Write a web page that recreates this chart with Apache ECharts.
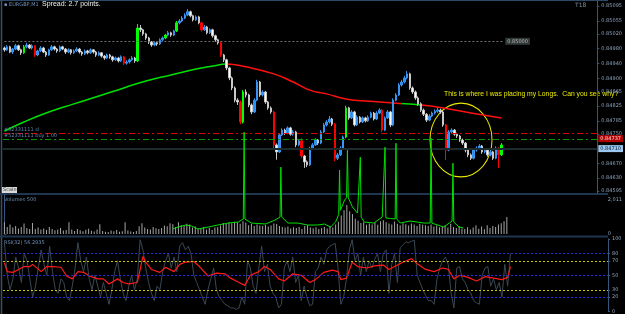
<!DOCTYPE html>
<html>
<head>
<meta charset="utf-8">
<script src="https://cdn.jsdelivr.net/npm/echarts@6/dist/echarts.min.js"></script>
<style>
  html, body { margin: 0; padding: 0; background: #000; }
  #chart { width: 625px; height: 314px; }
</style>
</head>
<body>
<div id="chart"></div>
<script>
// EURGBP M1, prices in points above 0.84000 -> [open, close, low, high]
const candles = [
  [982,977,972,986],[977,985,974,990],[985,971,968,988],[971,979,966,982],[979,988,976,993],
  [988,977,974,991],[977,969,963,980],[969,985,966,990],[985,990,981,996],[990,982,979,993],
  [982,988,978,992],[988,963,958,990],[963,974,960,977],[974,982,971,987],[982,971,968,985],
  [971,963,958,974],[963,977,961,980],[977,985,974,990],[985,979,975,988],[979,974,969,982],
  [974,985,971,989],[985,979,976,988],[979,971,966,982],[971,977,968,981],[977,969,964,979],
  [969,974,966,978],[974,979,971,984],[979,971,967,982],[971,966,961,974],[966,974,963,978],
  [974,969,965,977],[969,977,966,981],[977,971,967,979],[971,963,958,974],[963,969,960,973],
  [969,960,956,971],[960,955,950,963],[955,963,952,967],[963,958,953,966],[958,950,945,961],
  [950,955,947,959],[955,947,943,958],[947,958,944,962],[958,941,936,960],[941,944,937,949],
  [944,950,940,954],[950,955,947,960],[955,947,942,958],[947,1036,944,1047],[1036,1031,1025,1044],
  [1031,1020,1015,1034],[1020,1009,1004,1023],[1009,998,993,1012],[998,990,985,1001],[990,996,987,1000],
  [996,993,988,999],[993,1004,990,1008],[1004,1009,1000,1013],[1009,1017,1006,1020],[1017,1023,1014,1028],
  [1023,1017,1012,1026],[1017,1028,1014,1031],[1028,1050,1025,1055],[1050,1055,1046,1060],[1055,1063,1052,1068],
  [1063,1071,1060,1076],[1071,1080,1068,1087],[1080,1069,1065,1083],[1069,1058,1054,1072],[1058,1066,1055,1070],
  [1066,1050,1046,1069],[1050,1031,1026,1053],[1031,1039,1028,1044],[1039,1023,1019,1042],[1023,1031,1020,1035],
  [1031,1015,1010,1034],[1015,1004,999,1018],[1004,996,991,1007],[996,963,958,999],[963,950,944,966],
  [950,928,922,953],[928,901,895,931],[901,874,868,905],[874,841,835,878],[841,836,828,846],
  [836,782,776,840],[782,863,778,868],[863,855,848,870],[855,828,822,858],[828,809,803,832],
  [809,841,806,846],[841,890,838,896],[890,855,850,893],[855,863,851,868],[863,836,831,866],
  [836,820,815,839],[820,809,804,824],[809,720,710,812],[720,701,680,724],[701,747,698,752],
  [747,760,744,765],[760,752,747,764],[752,766,749,770],[766,749,745,769],[749,755,745,760],
  [755,720,714,758],[720,731,716,736],[731,690,684,738],[690,674,658,693],[674,666,660,678],
  [666,711,663,715],[711,720,707,725],[720,733,717,738],[733,725,720,736],[725,755,722,760],
  [755,774,752,779],[774,782,770,787],[782,790,778,798],[790,776,771,793],[776,684,676,779],
  [684,693,679,698],[693,711,690,716],[711,741,708,745],[741,820,738,826],[820,793,788,823],
  [793,809,790,814],[809,774,770,812],[774,795,771,800],[795,782,778,798],[782,793,779,797],
  [793,785,781,796],[785,795,782,800],[795,806,792,810],[806,790,786,809],[790,806,787,811],
  [806,814,803,819],[814,760,755,817],[760,793,757,797],[793,809,790,814],[809,774,768,812],
  [774,841,771,846],[841,855,838,860],[855,882,852,887],[882,890,878,896],[890,901,886,907],
  [901,912,897,920],[912,874,869,915],[874,863,858,878],[863,847,842,867],[847,831,826,851],
  [831,814,809,835],[814,803,798,818],[803,787,782,806],[787,798,784,803],[798,806,795,810],
  [806,811,802,816],[811,814,807,820],[814,809,804,818],[809,774,769,812],[774,706,679,777],
  [706,755,703,760],[755,760,751,765],[760,749,745,763],[749,744,739,753],[744,733,728,747],
  [733,725,720,737],[725,706,700,728],[706,693,687,710],[693,684,679,697],[684,706,681,711],
  [706,711,702,716],[711,717,707,722],[717,701,696,720],[701,706,697,711],[706,693,688,709],
  [693,701,689,706],[701,684,679,704],[684,711,681,716],[711,693,658,714],[693,720,690,725]
];
const bigDown = [11, 43, 71, 78, 85, 97, 107, 119, 136, 159, 178];
const bigUp = [7, 48, 58, 62, 86, 123, 179];

const volumes = [
  700,420,560,380,470,330,410,620,350,290, 650,300,380,260,320,240,410,300,220,270,
  350,200,240,690,260,180,300,220,170,250, 310,190,150,260,570,180,140,120,200,160,
  240,130,170,690,210,150,120,180,460,640, 380,300,260,420,340,290,360,500,460,640,
  580,420,700,520,480,600,560,390,450,330, 300,410,270,350,240,380,420,510,650,590,
  700,640,720,690,610,760,680,520,600,480, 560,500,470,530,450,500,620,590,480,410,
  380,450,330,400,350,420,300,470,520,390, 340,400,290,360,420,330,470,380,560,720,
  1100,1400,1720,1350,1180,900,780,650,700,540, 620,560,680,540,760,820,700,620,560,740,
  600,520,640,580,500,620,560,480,600,540, 520,470,560,440,500,400,450,520,380,600,
  420,350,470,330,300,400,260,380,520,310, 440,280,520,350,480,420,560,640,760,1000
];
// volume average line [bar position, volume]; tall spikes run up into the price panel
const volumeAvg = [
  [60,295],[62,420],[64.6,531],[66.7,472],[69,295],[72.7,413],[76,531],[79.8,649],[83.3,708],
  [85.1,885],[85.4,6018],[85.7,885],[88,649],[93,590],[96.4,826],[98.2,1003],[98.5,3953],[98.8,1003],
  [101,649],[104.5,649],[108,531],[111.6,531],[114,590],[116.2,413],[118,708],[119.1,1150],[119.4,3776],
  [119.7,1400],[121.2,2006],[121.9,2150],[122.2,4956],[122.5,2150],[124,1593],[125.8,1239],[126.5,1121],
  [126.8,4543],[127.1,1000],[128.2,708],[131.6,649],[134.6,1003],[135.3,1003],[135.6,5133],[135.9,944],
  [137.5,920],[139.2,885],[139.5,5369],[139.8,885],[141,649],[144.5,767],[149.5,649],[151.7,649],
  [152,5664],[152.3,640],[156.5,413],[158.5,649],[159.5,767],[159.8,4189],[160.1,700],[162,413],[163.5,354]
];
// moving average on price [bar, points]
const priceMA = [
  [0,757],[7,782],[16,809],[25,831],[34,852],[43,874],[51,893],[60,909],[69,925],[75,933],[80,939],
  [87,931],[97,912],[104,890],[110,868],[116,858],[123,844],[130,839],[140,833],[150,828],[158,820],
  [168,806],[179,793]
];
const rsiSlow = [
  [0,67],[1,55],[3,54],[5,58],[7,62],[9,62],[10,65],[13,55],[15,62],[17,62],[20,61],[22,49],[24,45],
  [26,55],[28,54],[30,49],[33,45],[35,45],[37,38],[40,45],[42,40],[44,38],[47,40],[48,58],[49,76],
  [50,68],[52,58],[55,54],[57,61],[60,55],[62,65],[64,68],[67,69],[69,62],[72,49],[75,53],[78,52],
  [80,46],[83,40],[85,36],[87,50],[90,55],[92,62],[94,58],[97,45],[99,42],[102,52],[105,50],[108,40],
  [110,44],[113,54],[116,57],[118,55],[119,44],[121,46],[123,68],[125,62],[128,60],[131,63],[134,64],
  [136,58],[138,62],[141,68],[144,73],[146,66],[149,58],[152,55],[155,60],[157,58],[159,45],[161,50],
  [164,47],[167,42],[170,48],[173,46],[176,44],[178,47],[179,62]
];
const rsiFast = [
  95,50,30,45,75,60,40,80,70,45, 20,35,60,85,65,50,90,55,30,25, 45,40,20,15,35,60,95,70,55,75,
  45,30,50,35,20,40,25,10,30,55, 70,45,25,15,35,50,30,45,99,85, 60,40,25,15,35,30,55,70,80,60,
  75,55,90,95,85,90,80,50,40,30, 20,10,30,45,60,30,20,15,10,8, 5,5,3,5,20,10,70,60,35,25,
  60,90,55,65,35,25,20,5,10,60, 70,55,75,40,50,15,35,20,8,10, 55,60,75,65,85,90,92,94,60,10,
  20,45,85,99,70,80,50,75,55,70, 60,72,80,55,80,85,25,65,80,40, 88,92,96,95,97,98,50,40,30,22,
  15,15,10,45,60,70,75,65,25,5, 60,62,45,40,30,25,15,12,10,50, 60,62,35,45,30,40,20,65,35,80
];
const priceTicks = ['0.84595','0.84630','0.84670','0.84750','0.84785','0.84825','0.84865',
  '0.84900','0.84940','0.84980','0.85020','0.85055','0.85095'];
const rsiLevels = [0, 20, 30, 50, 70, 80, 100];
const rsiBlue = [80, 50, 20];
const rsiYellow = [70, 30];
const volumeTicks = [0, 2011];
const bidPrice = 0.84710, askPrice = 0.84737, stopPrice = 0.84751, orderPrice = 0.84736, hLine = 0.85000;

const nCats = 214;
const cats = Array.from({ length: nCats }, (_, i) => i);
const px = p => +(0.84 + p / 1e5).toFixed(5);

const candleData = candles.map((d, i) => {
  const item = { value: d.map(px) };
  if (bigDown.includes(i)) item.itemStyle = { color: '#ff0000', color0: '#ff0000', borderColor: '#ff0000', borderColor0: '#ff0000' };
  if (bigUp.includes(i)) item.itemStyle = { color: '#00ff00', color0: '#00ff00', borderColor: '#00ff00', borderColor0: '#00ff00' };
  return item;
});
const maData = priceMA.map(d => [d[0], px(d[1])]);

const axisText = { color: '#8fa6bd', fontSize: 5, fontFamily: 'DejaVu Sans', margin: 4 };
const axisLn = { show: true, lineStyle: { color: '#35587c', width: 1 } };
const tick = { show: true, length: 2, lineStyle: { color: '#35587c' } };
const boxLabel = (text, color, bg) => ({ show: true, position: 'end', formatter: text, color: color, backgroundColor: bg,
  fontSize: 5, fontFamily: 'DejaVu Sans', padding: [1, 2], distance: 1 });
const leftLabel = text => ({ show: true, position: 'insideStartTop', formatter: text, color: '#5d86b0',
  fontSize: 5, fontFamily: 'DejaVu Sans', distance: 1 });

// one hidden carrier series per horizontal level, so each markLine keeps its own colour
function levelSeries(gridAxis, carrier, lines, style, label) {
  return {
    type: 'line', xAxisIndex: gridAxis, yAxisIndex: gridAxis, data: carrier, symbol: 'none', silent: true,
    lineStyle: { width: 0, color: style.color }, itemStyle: { color: style.color }, z: 1,
    markLine: {
      silent: true, symbol: ['none', 'none'], precision: 5, animation: false,
      lineStyle: style, label: label || { show: false },
      data: lines
    }
  };
}

let chart = echarts.init(document.getElementById('chart'));
let options = {
  backgroundColor: '#000',
  animation: false,
  grid: [
    { left: 3, right: 17, top: 1, height: 192 },
    { left: 3, right: 17, top: 195, height: 39 },
    { left: 3, right: 17, top: 239, height: 74 }
  ],
  xAxis: [
    { type: 'category', data: cats, gridIndex: 0, show: false },
    { type: 'category', data: cats, gridIndex: 1, show: false },
    { type: 'category', data: cats, gridIndex: 2, show: false },
    { type: 'value', gridIndex: 1, min: -0.5, max: nCats - 0.5, show: false }
  ],
  yAxis: [
    { type: 'value', gridIndex: 0, position: 'right', min: 0.8459, max: 0.85109,
      axisLine: axisLn, axisTick: Object.assign({ customValues: priceTicks.map(Number) }, tick),
      splitLine: { show: false },
      axisLabel: Object.assign({ customValues: priceTicks.map(Number), formatter: v => v.toFixed(5) }, axisText) },
    { type: 'value', gridIndex: 1, position: 'right', min: 0, max: 2307,
      axisLine: axisLn, axisTick: Object.assign({ customValues: volumeTicks }, tick), splitLine: { show: false },
      axisLabel: Object.assign({ customValues: volumeTicks }, axisText) },
    { type: 'value', gridIndex: 2, position: 'right', min: 0, max: 100,
      axisLine: axisLn, axisTick: Object.assign({ customValues: rsiLevels }, tick), splitLine: { show: false },
      axisLabel: Object.assign({ customValues: rsiLevels }, axisText) }
  ],
  visualMap: {
    type: 'piecewise', show: false, seriesIndex: 1, dimension: 0,
    pieces: [
      { lt: 80, color: '#00e000' },
      { gte: 80, lt: 143, color: '#ff1010' },
      { gte: 143, lt: 150, color: '#00e000' },
      { gte: 150, color: '#ff1010' }
    ]
  },
  series: [
    {
      type: 'candlestick', xAxisIndex: 0, yAxisIndex: 0, data: candleData, barWidth: 2, z: 3,
      itemStyle: { color: '#1e8fff', color0: '#ffffff', borderColor: '#3a95f0', borderColor0: '#c8c8c8', borderWidth: 1 }
    },
    {
      type: 'line', xAxisIndex: 0, yAxisIndex: 0, smooth: true, symbol: 'none', z: 3,
      data: maData, lineStyle: { width: 1.5 }
    },
    levelSeries(0, maData, [{ yAxis: stopPrice }], { color: '#e00000', type: [6, 3, 2, 3], width: 1 }, leftLabel('#52331111 sl')),
    levelSeries(0, maData, [{ yAxis: orderPrice }], { color: '#00a000', type: [6, 3, 2, 3], width: 1 }, leftLabel('#52331111 buy 1.00')),
    levelSeries(0, maData, [{ yAxis: bidPrice }], { color: '#1c2b2b', type: 'solid', width: 2 }, boxLabel(bidPrice.toFixed(5), '#0a1a30', '#9cc8f0')),
    levelSeries(0, maData, [{ yAxis: askPrice }], { color: 'rgba(0,0,0,0)', width: 1 }, boxLabel(askPrice.toFixed(5), '#ffd8d8', '#b00000')),
    levelSeries(0, maData, [[{ coord: [0, hLine] }, { coord: [180, hLine] }]], { color: '#707070', type: [2, 2], width: 1 },
      boxLabel(hLine.toFixed(5), '#b8b8b8', '#303838')),
    {
      type: 'bar', xAxisIndex: 1, yAxisIndex: 1, data: volumes, barWidth: 1,
      itemStyle: { color: '#a6a6a6' }
    },
    {
      type: 'line', xAxisIndex: 3, yAxisIndex: 1, data: volumeAvg, symbol: 'none', clip: false,
      lineStyle: { color: '#00e000', width: 1 }, z: 5
    },
    levelSeries(2, rsiFast, rsiBlue.map(v => ({ yAxis: v })), { color: '#2a2ae6', type: [2, 2], width: 1 }),
    levelSeries(2, rsiFast, rsiYellow.map(v => ({ yAxis: v })), { color: '#c8c800', type: [2, 2], width: 1 }),
    {
      type: 'line', xAxisIndex: 2, yAxisIndex: 2, data: rsiFast, symbol: 'none', z: 3,
      lineStyle: { color: '#3b4852', width: 1 }
    },
    {
      type: 'line', xAxisIndex: 2, yAxisIndex: 2, data: rsiSlow, symbol: 'none', z: 4,
      lineStyle: { color: '#ff1a1a', width: 1.2 }
    }
  ],
  graphic: [
    { type: 'line', shape: { x1: 0, y1: 0.5, x2: 608, y2: 0.5 }, style: { stroke: '#2b4a69', lineWidth: 1 } },
    { type: 'line', shape: { x1: 1.5, y1: 0, x2: 1.5, y2: 314 }, style: { stroke: '#3b5068', lineWidth: 1.5 } },
    { type: 'rect', shape: { x: 0, y: 193, width: 608, height: 2 }, style: { fill: '#1f3550' } },
    { type: 'rect', shape: { x: 0, y: 235.5, width: 608, height: 2 }, style: { fill: '#1f3550' } },
    { type: 'text', x: 4, y: 2, style: { text: '▪ EURGBP,M1', fill: '#6f90b8', fontSize: 5, fontFamily: 'DejaVu Sans' } },
    { type: 'text', x: 42, y: 1, style: { text: 'Spread: 2.7 points.', fill: '#f0f0f0', fontSize: 7, fontFamily: 'Liberation Sans' } },
    { type: 'text', x: 575, y: 2, style: { text: 'T18', fill: '#7f90a0', fontSize: 6, fontFamily: 'DejaVu Sans' } },
    { type: 'rect', shape: { x: 2, y: 187, width: 15, height: 6 }, style: { fill: '#d8d8d8' } },
    { type: 'text', x: 3, y: 187.5, style: { text: 'Scale', fill: '#404040', fontSize: 5, fontFamily: 'DejaVu Sans' } },
    { type: 'text', x: 4, y: 197, style: { text: 'Volumes 500', fill: '#6f90b8', fontSize: 5, fontFamily: 'DejaVu Sans' } },
    { type: 'text', x: 4, y: 240, style: { text: 'RSI(32) 56.2935', fill: '#6f90b8', fontSize: 5, fontFamily: 'DejaVu Sans' } },
    { type: 'text', x: 444, y: 91, style: { text: 'This is where I was placing my Longs.  Can you see why?', fill: '#e8e800', fontSize: 6.8, fontFamily: 'Liberation Sans' } },
    { type: 'circle', x: 461, y: 140, scaleY: 1.19, shape: { cx: 0, cy: 0, r: 31 }, style: { fill: 'none', stroke: '#e8e800', lineWidth: 1 } }
  ]
};
chart.setOption(options);
</script>
</body>
</html>
